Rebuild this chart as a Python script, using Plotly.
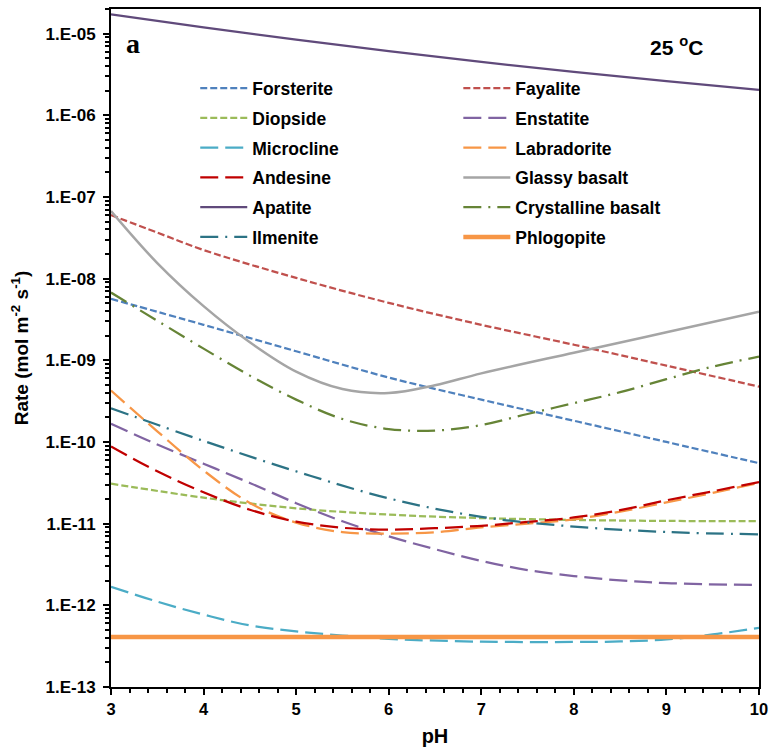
import plotly.graph_objects as go

# pH grids used by the series
ph_int = [3, 4, 5, 6, 7, 8, 9, 10]
ph_half = [3, 3.5, 4, 4.5, 5, 5.5, 6, 6.5, 7, 7.5, 8, 8.5, 9, 9.5, 10]
ph_fayalite = [3, 3.5, 4, 5, 6, 7, 8, 9, 10]
ph_enstatite = [3, 3.5, 4, 4.5, 5, 5.5, 6, 6.5, 7, 7.5, 8, 8.5, 9, 10]
ph_microcline = [3, 3.5, 4, 4.5, 5, 5.5, 6, 7, 8, 8.5, 9, 9.5, 10]
ph_glassy = [3, 3.5, 4, 4.5, 5, 5.5, 6, 6.5, 7, 8, 9, 10]

# Dissolution rates (mol m-2 s-1) at 25 oC
forsterite = [5.65e-9, 2.72e-9, 1.29e-9, 6.15e-10, 3.30e-10, 1.82e-10, 1.0e-10, 5.5e-11]
fayalite = [6.0e-8, 3.66e-8, 2.24e-8, 1.02e-8, 5.05e-9, 2.72e-9, 1.55e-9, 8.6e-10, 4.76e-10]
diopside = [3.09e-11, 2.08e-11, 1.54e-11, 1.29e-11, 1.17e-11, 1.11e-11, 1.08e-11, 1.07e-11]
enstatite = [1.67e-10, 9.3e-11, 5.42e-11, 3.15e-11, 1.78e-11, 1.07e-11, 7.0e-12, 4.87e-12,
             3.5e-12, 2.70e-12, 2.28e-12, 2.02e-12, 1.87e-12, 1.77e-12]
microcline = [1.69e-12, 1.11e-12, 7.7e-13, 5.67e-13, 4.79e-13, 4.27e-13, 3.88e-13, 3.59e-13,
              3.56e-13, 3.61e-13, 3.82e-13, 4.4e-13, 5.28e-13]
labradorite = [4.26e-10, 1.35e-10, 4.48e-11, 1.79e-11, 1.03e-11, 7.87e-12, 7.57e-12, 7.83e-12,
               9.0e-12, 9.98e-12, 1.13e-11, 1.40e-11, 1.82e-11, 2.38e-11, 3.16e-11]
andesine = [8.81e-11, 4.37e-11, 2.42e-11, 1.48e-11, 1.06e-11, 8.9e-12, 8.47e-12, 8.79e-12,
            9.42e-12, 1.05e-11, 1.19e-11, 1.46e-11, 1.93e-11, 2.49e-11, 3.23e-11]
glassy_basalt = [6.71e-8, 1.55e-8, 4.6e-9, 1.66e-9, 7.26e-10, 4.44e-10, 3.98e-10, 4.95e-10,
                 6.92e-10, 1.24e-9, 2.2e-9, 3.92e-9]
apatite = [1.72e-5, 1.19e-5, 8.44e-6, 6.10e-6, 4.50e-6, 3.39e-6, 2.61e-6, 2.05e-6]
crystalline_basalt = [6.75e-9, 3.05e-9, 1.39e-9, 6.49e-10, 3.30e-10, 1.91e-10, 1.44e-10, 1.38e-10,
                      1.61e-10, 2.20e-10, 2.99e-10, 4.07e-10, 5.87e-10, 8.36e-10, 1.11e-9]
ilmenite = [2.59e-10, 1.03e-10, 4.37e-11, 2.04e-11, 1.21e-11, 9.2e-12, 7.9e-12, 7.4e-12]
phlogopite = [4.1e-13] * len(ph_int)

y_tick_vals = [1e-13, 1e-12, 1e-11, 1e-10, 1e-9, 1e-8, 1e-7, 1e-6, 1e-5]
y_tick_text = ["1.E-13", "1.E-12", "1.E-11", "1.E-10", "1.E-09", "1.E-08", "1.E-07", "1.E-06", "1.E-05"]
x_tick_vals = ph_int

SHORT = "7px,3px"
LONG = "18px,7px"
LONG_DOT = "18px,7px,2px,7px"

# name, x, y, color, width, dash, legend column
series = [
    ("Forsterite", ph_int, forsterite, "#4F81BD", 2.25, SHORT, "legend"),
    ("Fayalite", ph_fayalite, fayalite, "#C0504D", 2.25, SHORT, "legend2"),
    ("Diopside", ph_int, diopside, "#9BBB59", 2.25, SHORT, "legend"),
    ("Enstatite", ph_enstatite, enstatite, "#8064A2", 2.25, LONG, "legend2"),
    ("Microcline", ph_microcline, microcline, "#4BACC6", 2.25, LONG, "legend"),
    ("Labradorite", ph_half, labradorite, "#F79646", 2.25, LONG, "legend2"),
    ("Andesine", ph_half, andesine, "#C00000", 2.25, LONG, "legend"),
    ("Glassy basalt", ph_glassy, glassy_basalt, "#A5A5A5", 2.5, "solid", "legend2"),
    ("Apatite", ph_int, apatite, "#604A7B", 2.25, "solid", "legend"),
    ("Crystalline basalt", ph_half, crystalline_basalt, "#668436", 2.25, LONG_DOT, "legend2"),
    ("Ilmenite", ph_int, ilmenite, "#2C7385", 2.25, LONG_DOT, "legend"),
    ("Phlogopite", ph_int, phlogopite, "#F79646", 4.5, "solid", "legend2"),
]

fig = go.Figure()
for name, xs, ys, color, width, dash, leg in series:
    fig.add_trace(go.Scatter(
        x=xs, y=ys, name=name, mode="lines",
        line=dict(color=color, width=width, dash=dash, shape="spline", smoothing=1.0),
        legend=leg, legendgroup=name,
    ))

FONT = "Liberation Sans, Arial, sans-serif"
legend_style = dict(
    xanchor="left", yanchor="top", bgcolor="rgba(0,0,0,0)",
    font=dict(family=FONT, size=17.5, color="black", weight="bold"),
    itemwidth=47, tracegroupgap=4, itemclick=False, itemdoubleclick=False,
)

minor_y = [m * 10.0 ** e for e in range(-13, -4) for m in range(2, 10)]
minor_y = [v for v in minor_y if v <= 2e-5]

fig.update_layout(
    width=775, height=753,
    margin=dict(l=111, r=14, t=7, b=66),
    plot_bgcolor="white", paper_bgcolor="white",
    legend=dict(x=0.13, y=0.9095, **legend_style),
    legend2=dict(x=0.536, y=0.9095, **legend_style),
    xaxis=dict(
        range=[3, 10], tickmode="array", tickvals=x_tick_vals,
        ticks="outside", ticklen=6, tickwidth=1.5, tickcolor="black",
        minor=dict(dtick=0.2, ticks="outside", ticklen=4, tickwidth=1.5, tickcolor="black"),
        showline=True, linecolor="black", linewidth=2, mirror=True,
        showgrid=False, zeroline=False,
        tickfont=dict(family=FONT, size=16.5, color="black", weight="bold"),
        title=dict(text="pH", font=dict(family=FONT, size=20, color="black", weight="bold"), standoff=12),
    ),
    yaxis=dict(
        type="log", range=[-13, -4.69897],
        tickmode="array", tickvals=y_tick_vals, ticktext=y_tick_text,
        ticks="outside", ticklen=6, tickwidth=1.5, tickcolor="black", ticklabelstandoff=4,
        minor=dict(tickmode="array", tickvals=minor_y, ticks="outside", ticklen=4, tickwidth=1.5,
                   tickcolor="black"),
        showline=True, linecolor="black", linewidth=2, mirror=True,
        showgrid=False, zeroline=False,
        tickfont=dict(family=FONT, size=17, color="black", weight="bold"),
        title=dict(text="Rate (mol m<sup>-2</sup> s<sup>-1</sup>)",
                   font=dict(family=FONT, size=19, color="black", weight="bold"), standoff=12),
    ),
    annotations=[
        dict(text="a", xref="paper", yref="paper", x=0.02, y=0.949, xanchor="left", yanchor="middle",
             showarrow=False, font=dict(family="Liberation Serif, Times New Roman, serif", size=28,
                                        color="black", weight="bold")),
        dict(text="25 <sup>o</sup>C", xref="paper", yref="paper", x=0.828, y=0.946, xanchor="left",
             yanchor="middle", showarrow=False,
             font=dict(family=FONT, size=21, color="black", weight="bold")),
    ],
)

fig.write_html("out.html")
